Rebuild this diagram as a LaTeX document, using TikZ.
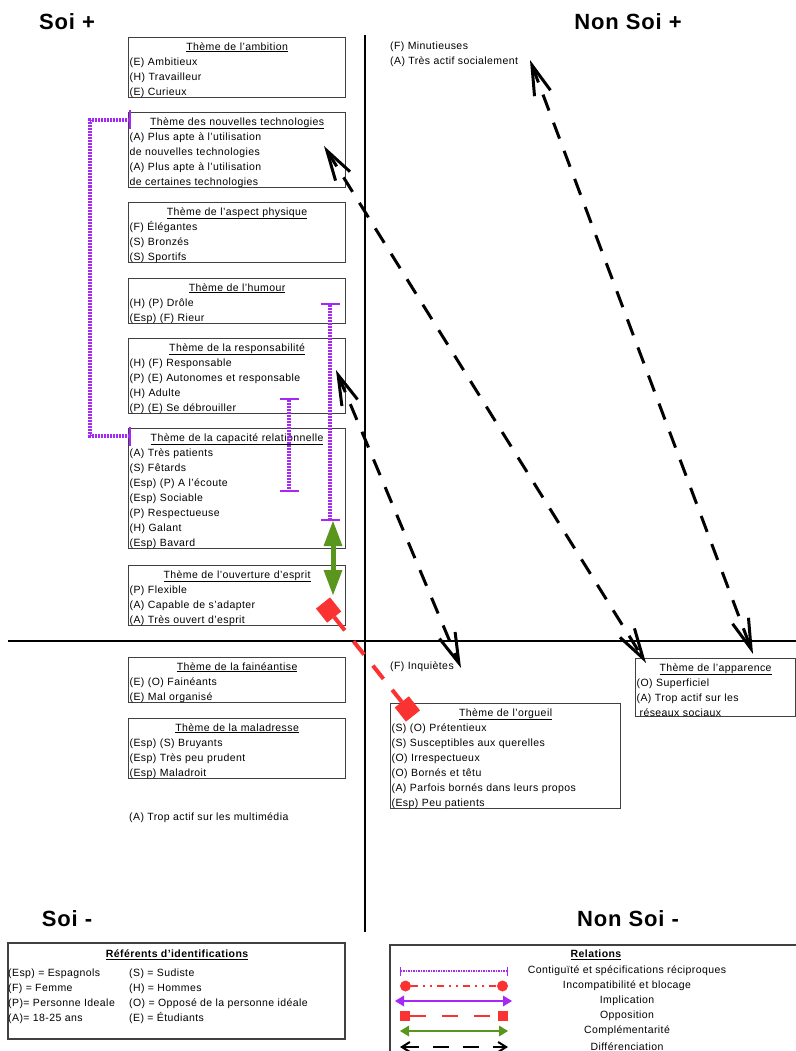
\documentclass[tikz,border=0pt]{standalone}
\usepackage{fontspec}
\setmainfont{Liberation Sans}[LetterSpace=4]
\usetikzlibrary{arrows.meta}
\definecolor{violetrel}{RGB}{165,40,245}
\definecolor{rougerel}{RGB}{250,50,50}
\definecolor{vertrel}{RGB}{90,150,30}
\newcommand{\titre}[1]{\rule{0pt}{12pt}\makebox[\linewidth]{\underline{#1}}}
\newcommand{\haut}{\rule{0pt}{12pt}}

\begin{document}
\begin{tikzpicture}[x=1pt, y=-1pt,
  theme/.style={draw=black!75, line width=1.2pt, anchor=north west, inner xsep=1pt, inner ysep=0.5pt, text width=#1, align=left, font=\fontsize{10.5}{15}\selectfont},
  theme/.default=215pt,
  note/.style={anchor=north west, inner sep=0pt, align=left, font=\fontsize{10.5}{15}\selectfont},
  legende/.style={font=\fontsize{10.5}{12}\selectfont},
  quadrant/.style={font=\fontsize{22}{22}\selectfont\bfseries},
  axe/.style={line width=2.5pt},
  contig/.style={draw=violetrel, line width=4pt, dash pattern=on 2pt off 1pt, {Bar[width=19pt,line width=2pt]}-{Bar[width=19pt,line width=2pt]}},
  compl/.style={draw=vertrel, line width=5pt, {Triangle[length=25pt,width=19pt,line width=0pt]}-{Triangle[length=25pt,width=19pt,line width=0pt]}},
  oppos/.style={draw=rougerel, line width=4pt, dash pattern=on 17pt off 14pt, {Square[length=18pt,width=18pt,line width=0pt]}-{Square[length=18pt,width=18pt,line width=0pt]}},
  diff/.style={draw=black, line width=3pt, dash pattern=on 17pt off 13pt, {Straight Barb[length=30pt,width=17pt]}-{Straight Barb[length=30pt,width=17pt]}}]
	\useasboundingbox (0,0) rectangle (795,1051);
	% axes et quadrants
	\draw[axe] (365,35) -- (365,932);
	\draw[axe] (8,641) -- (800,641);
	\node[quadrant] (soiplus) at (67,22) {Soi +};
	\node[quadrant] (nonsoiplus) at (628,22) {Non Soi +};
	\node[quadrant] (soimoins) at (67,919) {Soi -};
	\node[quadrant] (nonsoimoins) at (628,919) {Non Soi -};
	% themes
	\node[theme] (ambition) at (128,37) {\titre{Thème de l'ambition}\\(E) Ambitieux\\(H) Travailleur\\(E) Curieux};
	\node[theme] (technos) at (128,112) {\titre{Thème des nouvelles technologies}\\(A) Plus apte à l'utilisation\\de nouvelles technologies\\(A) Plus apte à l'utilisation\\de certaines technologies};
	\node[theme] (physique) at (128,202) {\titre{Thème de l'aspect physique}\\(F) Élégantes\\(S) Bronzés\\(S) Sportifs};
	\node[theme] (humour) at (128,278) {\titre{Thème de l'humour}\\(H) (P) Drôle\\(Esp) (F) Rieur};
	\node[theme] (respons) at (128,338) {\titre{Thème de la responsabilité}\\(H) (F) Responsable\\(P) (E) Autonomes et responsable\\(H) Adulte\\(P) (E) Se débrouiller};
	\node[theme] (relation) at (128,428) {\titre{Thème de la capacité relationnelle}\\(A) Très patients\\(S) Fêtards\\(Esp) (P) A l'écoute\\(Esp) Sociable\\(P) Respectueuse\\(H) Galant\\(Esp) Bavard};
	\node[theme] (ouverture) at (128,565) {\titre{Thème de l'ouverture d'esprit}\\(P) Flexible\\(A) Capable de s'adapter\\(A) Très ouvert d'esprit};
	\node[theme] (faineant) at (128,657) {\titre{Thème de la fainéantise}\\(E) (O) Fainéants\\(E) Mal organisé};
	\node[theme] (maladresse) at (128,718) {\titre{Thème de la maladresse}\\(Esp) (S) Bruyants\\(Esp) Très peu prudent\\(Esp) Maladroit};
	\node[theme=228pt] (orgueil) at (390,703) {\titre{Thème de l'orgueil}\\(S) (O) Prétentieux\\(S) Susceptibles aux querelles\\(O) Irrespectueux\\(O) Bornés et têtu\\(A) Parfois bornés dans leurs propos\\(Esp) Peu patients};
	\node[theme=158pt] (apparence) at (635,658) {\titre{Thème de l'apparence}\\(O) Superficiel\\(A) Trop actif sur les\\\hspace{3pt}réseaux sociaux};
	\node[note] (minutie) at (390,37) {\haut(F) Minutieuses\\(A) Très actif socialement};
	\node[note] (inquiet) at (390,657) {\haut(F) Inquiètes};
	\node[note] (multimedia) at (129,808) {\haut(A) Trop actif sur les multimédia};
	% relations
	\coordinate (tech0) at (131,120);
	\coordinate (coude) at (90,436);
	\coordinate (rel0) at (131,436);
	\coordinate (hum1) at (330,303);
	\coordinate (hum2) at (330,521);
	\coordinate (resp1) at (289,398);
	\coordinate (resp2) at (289,492);
	\coordinate (comp1) at (333,521);
	\coordinate (comp2) at (333,595);
	\coordinate (opp1) at (323,603);
	\coordinate (opp2) at (413,716);
	\coordinate (diff1a) at (324,146);
	\coordinate (diff1b) at (646,663);
	\coordinate (diff2a) at (336,370);
	\coordinate (diff2b) at (461,668);
	\coordinate (diff3a) at (530,60);
	\coordinate (diff3b) at (753,654);
	\draw[contig] (tech0) -| (coude) -- (rel0);
	\draw[contig] (hum1) -- (hum2);
	\draw[contig] (resp1) -- (resp2);
	\draw[compl] (comp1) -- (comp2);
	\draw[oppos] (opp1) -- (opp2);
	\draw[diff] (diff1a) -- (diff1b);
	\draw[diff] (diff2a) -- (diff2b);
	\draw[diff] (diff3a) -- (diff3b);
	% legendes
	\draw[black!75, line width=1.2pt] (8,943) rectangle (345,1039);
	\node[legende, font=\fontsize{10.5}{12}\selectfont\bfseries] (referents) at (177,955) {\underline{Référents d'identifications}};
	\node[note] (refs1) at (8,964) {\haut(Esp) = Espagnols\\(F) = Femme\\(P)= Personne Ideale\\(A)= 18-25 ans};
	\node[note] (refs2) at (129,964) {\haut(S) = Sudiste\\(H) = Hommes\\(O) = Opposé de la personne idéale\\(E) = Étudiants};
	\draw[black!75, line width=1.2pt] (390,945) rectangle (800,1060);
	\node[legende, font=\fontsize{10.5}{12}\selectfont\bfseries] (relations) at (596,955) {\underline{Relations}};
	\foreach \y [count=\i] in {971,986,1001,1016,1031,1047} {
		\coordinate (lg\i) at (400,\y);
		\coordinate (ld\i) at (508,\y);
	}
	\draw[contig, line width=1.5pt, dash pattern=on 1.5pt off 1pt, {Bar[width=9pt,line width=1pt]}-{Bar[width=9pt,line width=1pt]}] (lg1) -- (ld1);
	\draw[draw=rougerel, line width=1.5pt, dash pattern=on 7pt off 5pt on 2pt off 5pt on 2pt off 5pt, {Circle[length=11pt,line width=0pt]}-{Circle[length=11pt,line width=0pt]}] (lg2) -- (ld2);
	\draw[draw=violetrel, line width=2pt, {Triangle[length=9pt,width=11pt,line width=0pt]}-{Triangle[length=9pt,width=11pt,line width=0pt]}] ([xshift=-5pt]lg3) -- ([xshift=4pt]ld3);
	\draw[oppos, line width=1.5pt, dash pattern=on 16pt off 16pt, {Square[length=10pt,width=10pt,line width=0pt]}-{Square[length=10pt,width=10pt,line width=0pt]}] (lg4) -- (ld4);
	\draw[compl, line width=2pt, {Triangle[length=9pt,width=11pt,line width=0pt]}-{Triangle[length=9pt,width=11pt,line width=0pt]}] (lg5) -- (ld5);
	\draw[diff, line width=2pt, dash pattern=on 16pt off 14pt, {Straight Barb[length=8pt,width=10pt]}-{Straight Barb[length=8pt,width=10pt]}] (lg6) -- (ld6);
	\node[legende] (lcontig) at (627,971) {Contiguïté et spécifications réciproques};
	\node[legende] (lincomp) at (627,986) {Incompatibilité et blocage};
	\node[legende] (limpl) at (627,1001) {Implication};
	\node[legende] (loppos) at (627,1016) {Opposition};
	\node[legende] (lcompl) at (627,1031) {Complémentarité};
	\node[legende] (ldiff) at (627,1047) {Différenciation};
\end{tikzpicture}
\end{document}
